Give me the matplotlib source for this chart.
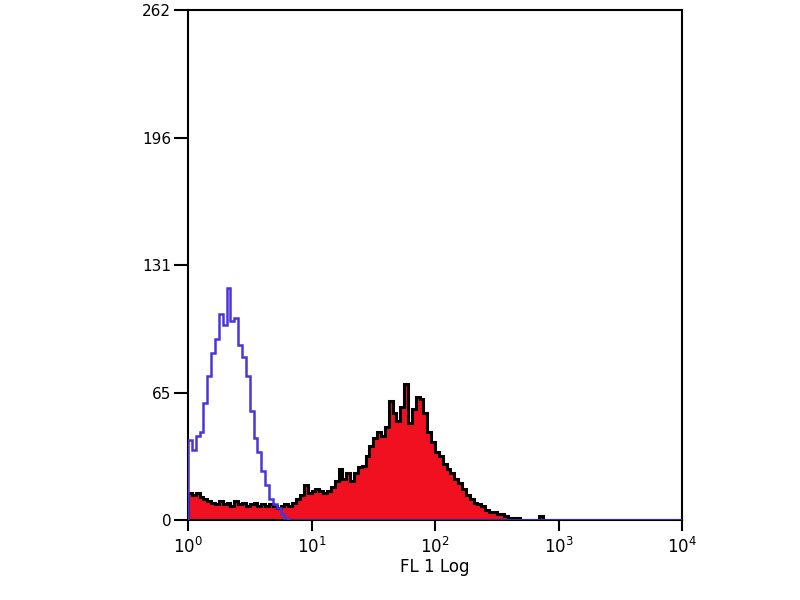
import numpy as np
import matplotlib
matplotlib.use("Agg")
import matplotlib.pyplot as plt

# 128 log-spaced channels from 10^0 to 10^4
stained = [14, 13, 14, 12, 11, 10, 9, 8, 10, 8, 9, 7, 10, 8, 9, 7,
           8, 9, 7, 8, 7, 8, 7, 6, 7, 8, 7, 9, 11, 13, 18, 14,
           15, 16, 15, 14, 15, 17, 20, 26, 21, 24, 20, 24, 27, 28, 33, 38,
           42, 45, 43, 48, 61, 55, 51, 58, 70, 50, 57, 63, 62, 55, 45, 40,
           35, 33, 29, 26, 24, 21, 19, 16, 13, 11, 9, 8, 7, 5, 4, 4,
           3, 3, 2, 1, 1, 1, 0, 0, 0, 0, 0, 2, 0, 0, 0, 0,
           0, 0, 0, 0, 0, 0, 0, 0, 0, 0, 0, 0, 0, 0, 0, 0,
           0, 0, 0, 0, 0, 0, 0, 0, 0, 0, 0, 0, 0, 0, 0, 0]
control = [41, 36, 43, 45, 60, 74, 86, 93, 106, 100, 119, 102, 104, 90, 84, 74,
           56, 42, 35, 25, 18, 11, 8, 6, 3, 1]
control = control + [0] * (len(stained) - len(control))

y_ticks = [0, 65, 131, 196, 262]
x_ticks = [1, 10, 100, 1000, 10000]
x_labels = ["$10^{0}$", "$10^{1}$", "$10^{2}$", "$10^{3}$", "$10^{4}$"]

edges = np.logspace(0, 4, len(stained) + 1)

fig = plt.figure(figsize=(8, 6), dpi=100)
ax = fig.add_axes([0.235, 0.1333, 0.6175, 0.85])

ax.stairs(stained, edges, fill=True, color="#f01020", zorder=2)
ax.stairs(stained, edges, color="black", linewidth=2.2, zorder=3)
ax.stairs(control, edges, color="#4a35d8", linewidth=1.8, zorder=4)

ax.set_xscale("log")
ax.set_xlim(1, 10000)
ax.set_ylim(0, 262)
ax.set_xticks(x_ticks)
ax.set_xticklabels(x_labels)
ax.xaxis.set_minor_locator(matplotlib.ticker.NullLocator())
ax.set_yticks(y_ticks)
ax.set_yticklabels([str(v) for v in y_ticks])

for s in ax.spines.values():
    s.set_linewidth(1.5)
ax.tick_params(axis="y", length=10, width=1.5, labelsize=11, pad=2)
ax.tick_params(axis="x", length=8, width=1.5, labelsize=12, pad=4)
ax.set_xlabel("FL 1 Log", fontsize=12, labelpad=1)

fig.savefig("out.png", dpi=100)
